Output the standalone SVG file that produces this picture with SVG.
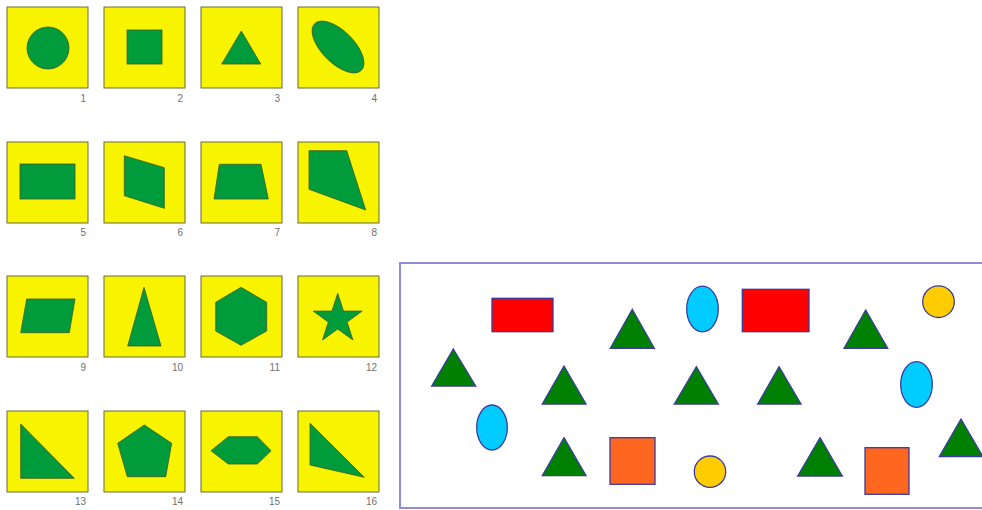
<svg xmlns="http://www.w3.org/2000/svg" width="982" height="510" viewBox="0 0 982 510">
<style>
.box{fill:#f8f400;stroke:#6b6b3a;stroke-width:1}
.g{fill:#009b3a;stroke:#3d5a2a;stroke-width:0.8}
.lbl{font-family:"Liberation Sans",Arial,sans-serif;font-size:10px;fill:#707070;text-anchor:end}
.panel{fill:#ffffff;stroke:#8c8cd8;stroke-width:2}
.s{stroke:#3a3aa0;stroke-width:1.3}
.tri{fill:#008000}
.red{fill:#ff0000}
.cyan{fill:#00ccff}
.gold{fill:#ffcc00}
.orange{fill:#ff6620}
</style>
<rect width="982" height="510" fill="#ffffff"/>
<g id="card1"><rect class="box" x="7" y="7" width="81" height="81"/><circle class="g" cx="48" cy="48" r="21"/><text class="lbl" x="86" y="102">1</text></g>
<g id="card2"><rect class="box" x="104" y="7" width="81" height="81"/><rect class="g" x="127" y="30" width="35" height="34"/><text class="lbl" x="183" y="102">2</text></g>
<g id="card3"><rect class="box" x="201" y="7" width="81" height="81"/><polygon class="g" points="241.3,31 221.7,64 260.7,64"/><text class="lbl" x="280" y="102">3</text></g>
<g id="card4"><rect class="box" x="298" y="7" width="81" height="81"/><ellipse class="g" cx="0" cy="0" rx="33" ry="16" transform="translate(338,47) rotate(45)"/><text class="lbl" x="377" y="102">4</text></g>

<g id="card5"><rect class="box" x="7" y="142" width="81" height="81"/><rect class="g" x="20" y="164" width="55" height="35"/><text class="lbl" x="86" y="236">5</text></g>
<g id="card6"><rect class="box" x="104" y="142" width="81" height="81"/><polygon class="g" points="124.3,155.7 164.3,167.7 164.3,208.3 124.3,195.7"/><text class="lbl" x="183" y="236">6</text></g>
<g id="card7"><rect class="box" x="201" y="142" width="81" height="81"/><polygon class="g" points="219.3,164.3 261,164.3 268.3,199 214,199"/><text class="lbl" x="280" y="236">7</text></g>
<g id="card8"><rect class="box" x="298" y="142" width="81" height="81"/><polygon class="g" points="309,150.7 346.7,150.7 365.7,210 309,189.3"/><text class="lbl" x="377" y="236">8</text></g>

<g id="card9"><rect class="box" x="7" y="276" width="81" height="81"/><polygon class="g" points="26.7,299 75,299 69.3,332.7 20.7,332.7"/><text class="lbl" x="86" y="371">9</text></g>
<g id="card10"><rect class="box" x="104" y="276" width="81" height="81"/><polygon class="g" points="144,287.3 161,346 127.7,346"/><text class="lbl" x="183" y="371">10</text></g>
<g id="card11"><rect class="box" x="201" y="276" width="81" height="81"/><polygon class="g" points="241,287.3 266.7,302.3 266.7,331 241,345.3 215.7,331 215.7,302.3"/><text class="lbl" x="280" y="371">11</text></g>
<g id="card12"><rect class="box" x="298" y="276" width="81" height="81"/><polygon class="g" points="337.7,293.3 343.5,311.1 362.2,311.1 347.1,322.1 352.9,340 337.7,329 322.5,340 328.3,322.1 313.2,311.1 331.9,311.1"/><text class="lbl" x="377" y="371">12</text></g>

<g id="card13"><rect class="box" x="7" y="411" width="81" height="81"/><polygon class="g" points="20.7,424 74.3,478.3 20.7,478.3"/><text class="lbl" x="86" y="505">13</text></g>
<g id="card14"><rect class="box" x="104" y="411" width="81" height="81"/><polygon class="g" points="144.3,425 171.7,443.3 165.7,476.7 127.3,476.7 117.7,443.3"/><text class="lbl" x="183" y="505">14</text></g>
<g id="card15"><rect class="box" x="201" y="411" width="81" height="81"/><polygon class="g" points="211,450.7 228.3,436.7 257.3,436.7 271,450.7 257.3,464 228.3,464"/><text class="lbl" x="280" y="505">15</text></g>
<g id="card16"><rect class="box" x="298" y="411" width="81" height="81"/><polygon class="g" points="310,423.3 364.3,477.3 310,465"/><text class="lbl" x="377" y="505">16</text></g>

<g id="panel">
<rect class="panel" x="400" y="263" width="590" height="245"/>
<rect class="s red" x="492" y="298.3" width="61" height="33.4"/>
<rect class="s red" x="742.3" y="289.3" width="66.7" height="42.4"/>
<ellipse class="s cyan" cx="702.5" cy="309" rx="15.8" ry="22.8"/>
<ellipse class="s cyan" cx="492" cy="427.5" rx="15.3" ry="22.5"/>
<ellipse class="s cyan" cx="916.5" cy="384.5" rx="15.8" ry="22.8"/>
<circle class="s gold" cx="938.5" cy="301.7" r="15.8"/>
<circle class="s gold" cx="710" cy="471.7" r="15.7"/>
<rect class="s orange" x="610" y="437.7" width="45" height="46.6"/>
<rect class="s orange" x="865" y="447.7" width="44" height="46.6"/>
<polygon class="s tri" points="632.3,309.3 654.3,348.3 610.3,348.3"/>
<polygon class="s tri" points="453.3,349 475.7,386 431.7,386"/>
<polygon class="s tri" points="564,366 586,404 542.3,404"/>
<polygon class="s tri" points="564,437.7 586,475.7 542.3,475.7"/>
<polygon class="s tri" points="865.7,310 887.7,348.3 844,348.3"/>
<polygon class="s tri" points="696.3,366.7 718.3,404 674.3,404"/>
<polygon class="s tri" points="779,366.7 801,404 757.7,404"/>
<polygon class="s tri" points="961,419 983,456.7 939.3,456.7"/>
<polygon class="s tri" points="820,437.7 842.3,476 797.7,476"/>
</g>
</svg>
